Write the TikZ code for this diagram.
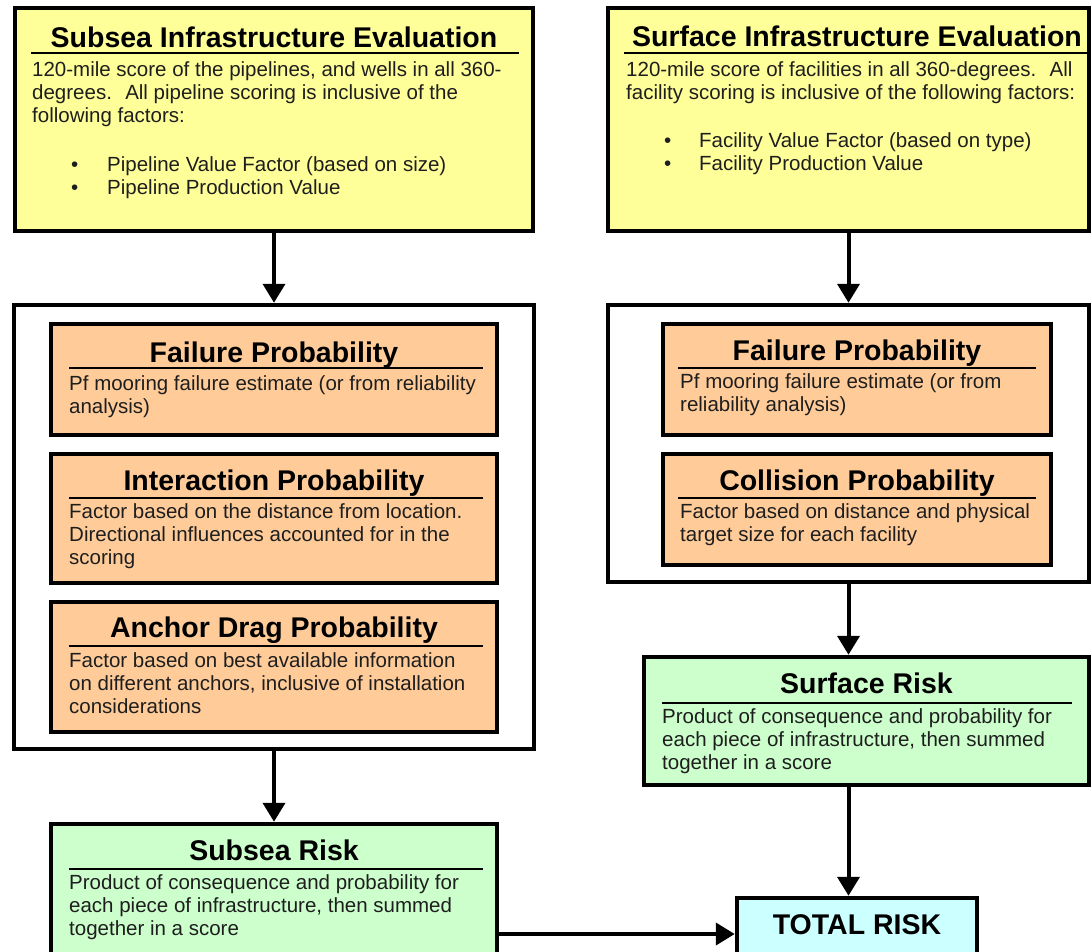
\documentclass[tikz,border=0pt]{standalone}
\usepackage{fontspec}
\setmainfont{Liberation Sans}
\usetikzlibrary{arrows.meta}
\definecolor{ylw}{HTML}{FFFF99}
\definecolor{org}{HTML}{FFCC99}
\definecolor{grn}{HTML}{CCFFCC}
\definecolor{cyn}{HTML}{CCFFFF}
\definecolor{txt}{HTML}{1E1E1E}
\begin{document}
\begin{tikzpicture}[x=1pt,y=-1pt,
  box/.style={draw=black, line width=4.5pt, inner sep=0pt},
  ybox/.style={box, fill=ylw},
  obox/.style={box, fill=org},
  gbox/.style={box, fill=grn},
  cbox/.style={box, fill=cyn},
  wbox/.style={box, fill=white},
  ttl/.style={font=\bfseries\fontsize{28.5}{30}\selectfont, inner sep=0pt, anchor=base},
  body/.style={font=\fontsize{20.5}{23}\selectfont, text=txt, inner sep=0pt, anchor=base west, align=left},
  rule/.style={line width=1.3pt},
  arr/.style={line width=4pt, -{Triangle[width=22pt,length=19pt]}},
]
\useasboundingbox (0,0) rectangle (1091,951);
\clip (0,0) rectangle (1091,951);

% ---------- left column ----------
\node[ybox, minimum width=518pt, minimum height=223pt] (sie) at (274,119.5) {};
\node[ttl] (siet) at (274,47) {Subsea Infrastructure Evaluation};
\draw[rule] (31,53) -- (519,53);
\node[body] (sieb) at (32,122) {120-mile score of the pipelines, and wells in all 360-\\degrees.~ All pipeline scoring is inclusive of the\\following factors:};
\node[body] (siel) at (71,194) {\makebox[36pt][l]{•}Pipeline Value Factor (based on size)\\\makebox[36pt][l]{•}Pipeline Production Value};

\node[wbox, minimum width=520pt, minimum height=444pt] (lcont) at (274,527) {};

\node[obox, minimum width=446pt, minimum height=111pt] (lfp) at (274,379.5) {};
\node[ttl] (lfpt) at (274,362) {Failure Probability};
\draw[rule] (69,368) -- (483,368);
\node[body] (lfpb) at (69,413) {Pf mooring failure estimate (or from reliability\\analysis)};

\node[obox, minimum width=446pt, minimum height=129pt] (lip) at (274,518.5) {};
\node[ttl] (lipt) at (274,490) {Interaction Probability};
\draw[rule] (69,498) -- (483,498);
\node[body] (lipb) at (69,564) {Factor based on the distance from location.\\Directional influences accounted for in the\\scoring};

\node[obox, minimum width=446pt, minimum height=130pt] (lad) at (274,667) {};
\node[ttl] (ladt) at (274,637) {Anchor Drag Probability};
\draw[rule] (69,646) -- (483,646);
\node[body] (ladb) at (69,713) {Factor based on best available information\\on different anchors, inclusive of installation\\considerations};

\node[gbox, minimum width=446pt, minimum height=156pt] (subrisk) at (274,902) {};
\node[ttl] (subriskt) at (274,860) {Subsea Risk};
\draw[rule] (69,869) -- (483,869);
\node[body] (subriskb) at (69,935) {Product of consequence and probability for\\each piece of infrastructure, then summed\\together in a score};

\node[cbox, minimum width=240pt, minimum height=92pt] (total) at (857,944) {};
\node[ttl] (totalt) at (857,934) {TOTAL RISK};

% ---------- right column ----------
\node[ybox, minimum width=481pt, minimum height=223pt] (rie) at (848.5,119.5) {};
\node[ttl] (riet) at (857,46) {Surface Infrastructure Evaluation};
\draw[rule] (624,53) -- (1087,53);
\node[body] (rieb) at (626,99) {120-mile score of facilities in all 360-degrees.~ All\\facility scoring is inclusive of the following factors:};
\node[body] (riel) at (664,170) {\makebox[35pt][l]{•}Facility Value Factor (based on type)\\\makebox[35pt][l]{•}Facility Production Value};

\node[wbox, minimum width=481pt, minimum height=277pt] (rcont) at (848.5,443.5) {};

\node[obox, minimum width=388pt, minimum height=111pt] (rfp) at (857,379.5) {};
\node[ttl] (rfpt) at (857,360) {Failure Probability};
\draw[rule] (678,368) -- (1036,368);
\node[body] (rfpb) at (680,411) {Pf mooring failure estimate (or from\\reliability analysis)};

\node[obox, minimum width=388pt, minimum height=111pt] (rcp) at (857,509.5) {};
\node[ttl] (rcpt) at (857,490) {Collision Probability};
\draw[rule] (678,498) -- (1036,498);
\node[body] (rcpb) at (680,541) {Factor based on distance and physical\\target size for each facility};

\node[gbox, minimum width=445pt, minimum height=128pt] (surrisk) at (866.5,721) {};
\node[ttl] (surriskt) at (866.5,693) {Surface Risk};
\draw[rule] (662,703) -- (1072,703);
\node[body] (surriskb) at (662,769) {Product of consequence and probability for\\each piece of infrastructure, then summed\\together in a score};

% ---------- connectors ----------
\draw[arr] (sie.south) -- (lcont.north);
\draw[arr] (lcont.south) -- (subrisk.north);
\draw[arr] (rie.south) -- (rcont.north);
\draw[arr] (rcont.south) -- (rcont.south |- surrisk.north);
\draw[arr] (surrisk.south -| rcont.south) -- (total.north -| rcont.south);
\coordinate (hy) at (0,934);
\draw[arr] (subrisk.east |- hy) -- (total.west |- hy);
\end{tikzpicture}
\end{document}
